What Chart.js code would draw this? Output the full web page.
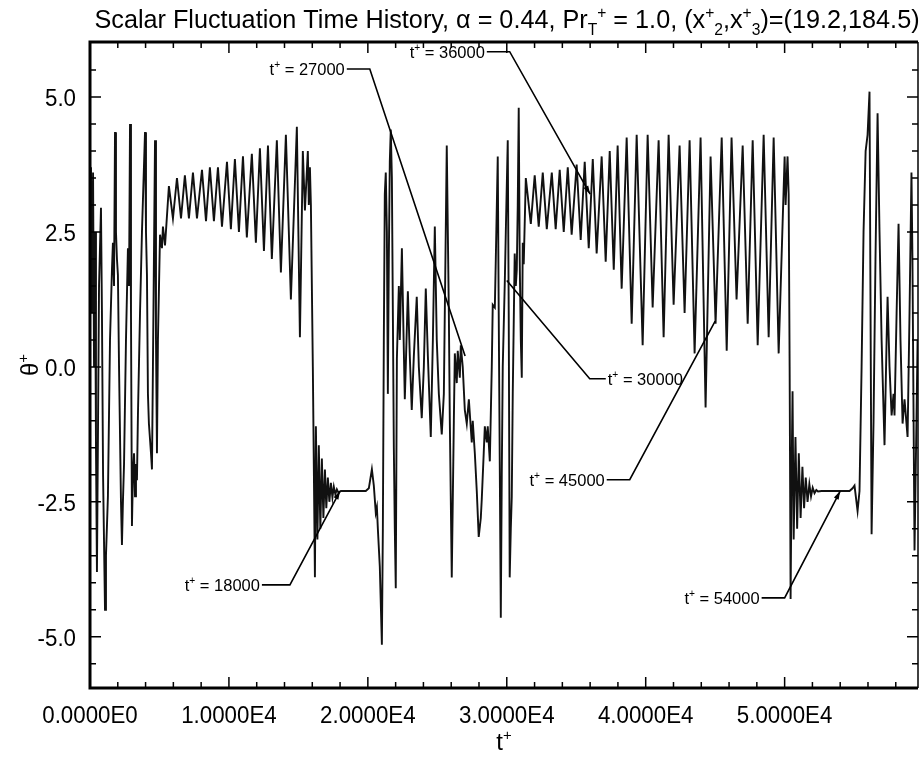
<!DOCTYPE html>
<html>
<head>
<meta charset="utf-8">
<script src="https://cdn.jsdelivr.net/npm/chart.js@4.4.1/dist/chart.umd.min.js"></script>
<style>
  html, body { margin: 0; padding: 0; background: #fff; }
  #wrap { width: 920px; height: 759px; }
</style>
</head>
<body>
<div id="wrap"><canvas id="chart" width="920" height="759"></canvas></div>
<script>
// [t+, theta+], segment by segment
const startBurst = [
  [0,2.0],[70,3.7],[140,1.0],[220,3.6],[290,0.0],[360,2.5],[430,-1.5],[500,-3.8],[580,-1.0],[650,1.5],
  [790,2.95],[860,1.0],[940,-2.0],[1080,-4.5],[1150,-3.5],[1290,-2.4],[1440,0.5],[1580,1.8],[1650,2.3],[1730,1.5],
  [1800,4.35],[1870,2.5],[1940,2.0],[2010,1.7],[2090,0.0],[2230,-2.5],[2300,-3.3],[2370,-2.5],[2450,-1.8],[2590,0.5],
  [2730,2.2],[2810,1.5],[2880,4.5],[2950,1.0],[3020,-2.95],[3090,-2.0],[3170,-1.6],[3240,-2.4],[3310,-1.8],[3380,-2.1],
  [3450,-0.9],[3600,1.0],[3740,2.5],[3960,4.35],[4030,2.5],[4100,1.7],[4170,-0.5],[4240,-1.05],[4390,-1.6],[4460,-1.9],
  [4530,0.0],[4680,4.2],[4750,0.5],[4820,-1.6],[4890,0.5],[5040,2.45],[5180,2.2],[5250,2.6],[5400,2.25]
];
const firstCycle = [
  [5680,3.35],[5970,2.75],[6260,3.5],[6550,2.75],[6830,3.55],[7120,2.75],[7410,3.6],[7700,2.75],
  [8060,3.65],[8350,2.7],[8630,3.7],[8920,2.7],[9210,3.7],[9500,2.6],[9860,3.8],[10140,2.55],
  [10430,3.85],[10720,2.5],[11010,3.9],[11290,2.4],[11650,3.95],[11940,2.3],[12230,4.05],[12520,2.15],
  [12810,4.1],[13090,2.0],[13450,4.2],[13740,1.75],[14100,4.3],[14460,1.25],[14890,4.45],[15110,0.55],
  [15320,4.0],[15470,2.9],[15680,4.0],[15750,3.0],[15830,3.7],[15900,3.0],[16040,0.0],[16190,-3.9]
];
const firstDecay = [
  [16260,-1.1],[16370,-3.2],[16470,-1.45],[16580,-3.0],[16690,-1.7],[16800,-2.8],[16910,-1.9],[17010,-2.62],
  [17120,-2.05],[17230,-2.5],[17340,-2.15],[17450,-2.42],[17550,-2.22],[17660,-2.36],[17770,-2.27],[17880,-2.33],
  [18060,-2.3],[19850,-2.3],[20070,-2.25],[20290,-1.9],[20430,-2.2],[20570,-2.7],[20650,-2.6],[20720,-3.0],
  [20860,-3.7],[21010,-5.15]
];
const midBurst = [
  [21080,-3.0],[21150,0.5],[21220,3.2],[21290,3.6],[21370,2.5],[21440,-0.5],[21510,2.0],[21580,3.8],[21650,4.4],
  [21730,3.5],[21800,1.0],[21870,-1.5],[21940,-3.0],[22010,-4.1],[22090,0.15],[22230,1.5],[22300,0.5],[22450,2.2],
  [22590,0.3],[22660,-0.6],[22730,0.0],[22880,1.4],[23020,0.2],[23160,-0.8],[23310,0.2],[23520,1.3],[23670,0.0],
  [23880,-0.95],[24030,0.0],[24170,1.45],[24320,0.2],[24530,-1.3],[24680,0.5],[24820,2.6],[24960,0.5],[25110,-0.5],
  [25320,-1.25],[25470,-0.5],[25680,4.1],[25830,1.0],[25900,-1.0],[26040,-3.9],[26190,-1.0],[26260,0.25],[26400,-0.3],
  [26470,0.3],[26620,-0.2],[26690,0.4],[26830,0.0],[26980,-0.8],[27120,-1.05],[27270,-0.6],[27480,-1.4],[27550,-1.0],
  [27700,-1.6],[27840,-2.3],[27980,-3.15],[28130,-2.8],[28200,-2.45],[28340,-1.6],[28420,-1.1],[28560,-1.4],[28630,-1.1],
  [28780,-1.75],[28920,0.0],[28990,1.15],[29140,1.1],[29210,2.0],[29350,3.9],[29420,1.0],[29500,-2.0],[29570,-4.65],
  [29640,-2.0],[29710,0.0],[29860,1.6],[29930,2.5],[30070,4.2],[30140,1.0],[30210,-3.9],[30290,-3.0],[30360,-2.4],
  [30430,-0.5],[30570,2.1],[30650,1.5],[30720,1.8],[30790,3.0],[30860,4.8],[30930,2.0],[31010,0.5],[31080,-0.2],
  [31150,2.3],[31220,1.9],[31370,3.5]
];
const secondCycle = [
  [31730,2.65],[32010,3.55],[32300,2.6],[32590,3.6],[32880,2.55],[33240,3.6],[33520,2.55],[33810,3.65],
  [34100,2.5],[34390,3.7],[34670,2.45],[35030,3.75],[35320,2.35],[35610,3.8],[35900,2.2],[36190,3.85],
  [36470,2.1],[36830,3.9],[37120,1.95],[37410,4.0],[37700,1.8],[37980,4.1],[38270,1.45],[38630,4.25],
  [38990,0.8],[39350,4.3],[39780,0.4],[40140,4.3],[40500,1.1],[40930,4.2],[41290,0.55],[41650,4.3],
  [42010,1.15],[42440,4.1],[42800,1.0],[43160,4.2],[43520,0.25],[43950,4.25],[44310,-0.75],[44670,3.9],
  [45030,0.8],[45470,4.25],[45830,0.3],[46180,4.25],[46540,1.25],[46980,4.1],[47340,0.8],[47700,4.2],
  [48060,0.4],[48490,4.3],[48850,0.55],[49210,4.25],[49570,0.25],[50000,3.9],[50070,3.0],[50210,3.9],
  [50290,3.2],[50360,0.0],[50430,-4.3]
];
const secondDecay = [
  [50500,-2.0],[50570,-0.45],[50650,-3.2],[50780,-1.3],[50900,-3.0],[51020,-1.6],[51150,-2.8],[51280,-1.85],
  [51400,-2.62],[51520,-2.05],[51650,-2.5],[51780,-2.17],[51900,-2.4],[52020,-2.24],[52150,-2.34],[52280,-2.28],
  [52400,-2.31],[52660,-2.3],[54670,-2.3],[54890,-2.25],[55030,-2.2],[55250,-2.67],[55390,-2.3]
];
const endBurst = [
  [55540,0.0],[55680,2.5],[55830,4.0],[55970,4.3],[56110,5.1],[56260,-3.1],[56400,-1.0],[56540,2.0],[56690,4.7],
  [56830,2.5],[56980,0.5],[57190,-1.45],[57340,0.5],[57410,1.3],[57550,0.0],[57700,-0.9],[57840,-0.5],[57910,-0.9],
  [58060,1.0],[58200,2.65],[58340,0.5],[58490,-1.05],[58630,-0.6],[58850,-1.3],[58990,1.0],[59130,3.6],[59200,2.0],
  [59350,-3.4],[59490,-1.0],[59570,0.5]
];

const xTickValues = [0, 10000, 20000, 30000, 40000, 50000];
const xTickLabels = ["0.0000E0", "1.0000E4", "2.0000E4", "3.0000E4", "4.0000E4", "5.0000E4"];
const yTickValues = [-5, -2.5, 0, 2.5, 5];
const yTickLabels = ["-5.0", "-2.5", "0.0", "2.5", "5.0"];

const markerTimes = [18000, 27000, 36000, 30000, 45000, 54000];
const markerTheta = [-2.3, 0.2, 3.2, 1.6, 0.85, -2.3];
const markerText = ["18000", "27000", "36000", "30000", "45000", "54000"];

const series = [].concat(startBurst, firstCycle, firstDecay, midBurst, secondCycle, secondDecay, endBurst);

const FONT = "'Liberation Sans', Arial, Helvetica, sans-serif";

// callout layout (text anchor in data units, elbow time, arrowhead)
const callouts = [
  { at: [12230, -4.04], align: "right", elbow: 14390, arrow: true },
  { at: [18340, 5.52], align: "right", elbow: 20140, arrow: false },
  { at: [28420, 5.84], align: "right", elbow: 30210, arrow: true },
  { at: [37270, -0.22], align: "left", elbow: 35970, arrow: false },
  { at: [37050, -2.09], align: "right", elbow: 38850, arrow: false },
  { at: [48200, -4.28], align: "right", elbow: 50000, arrow: true }
];

// draws text pieces with sub/superscripts, returns width
function drawRich(ctx, parts, x, y, size, align, stretch) {
  stretch = stretch || 1;
  let total = 0;
  const widths = parts.map(p => {
    const s = p[1] === "n" ? size : size * 0.62;
    ctx.font = s + "px " + FONT;
    const w = ctx.measureText(p[0]).width;
    total += w;
    return w;
  });
  const w = total * stretch;
  let x0 = x;
  if (align === "center") x0 = x - w / 2;
  else if (align === "right") x0 = x - w;
  ctx.save();
  ctx.translate(x0, y);
  ctx.scale(stretch, 1);
  ctx.textBaseline = "alphabetic";
  ctx.textAlign = "left";
  let cx = 0;
  parts.forEach((p, i) => {
    const s = p[1] === "n" ? size : size * 0.62;
    ctx.font = s + "px " + FONT;
    let dy = 0;
    if (p[1] === "sub") dy = size * 0.28;
    if (p[1] === "sup") dy = -size * 0.4;
    ctx.fillText(p[0], cx, dy);
    cx += widths[i];
  });
  ctx.restore();
  return w;
}

const decorPlugin = {
  id: "decor",
  afterDatasetsDraw(chart) {
    const ctx = chart.ctx;
    const a = chart.chartArea;
    const xs = chart.scales.x, ys = chart.scales.y;
    ctx.save();
    ctx.fillStyle = "#000";
    ctx.strokeStyle = "#000";

    // inward ticks on all four sides
    ctx.lineWidth = 1.5;
    ctx.beginPath();
    for (let t = 0; t <= xs.max; t += 2000) {
      const px = xs.getPixelForValue(t);
      const len = t % 10000 === 0 ? 11 : 6;
      ctx.moveTo(px, a.bottom); ctx.lineTo(px, a.bottom - len);
      ctx.moveTo(px, a.top); ctx.lineTo(px, a.top + len);
    }
    for (let v = -5.5; v <= 5.5; v += 0.5) {
      const py = ys.getPixelForValue(v);
      const len = Math.abs(v % 2.5) < 1e-9 ? 11 : 6;
      ctx.moveTo(a.left, py); ctx.lineTo(a.left + len, py);
      ctx.moveTo(a.right, py); ctx.lineTo(a.right - len, py);
    }
    ctx.stroke();

    // frame
    ctx.lineWidth = 3;
    ctx.beginPath();
    ctx.moveTo(a.right, a.top); ctx.lineTo(a.left, a.top);
    ctx.lineTo(a.left, a.bottom); ctx.lineTo(a.right, a.bottom);
    ctx.stroke();
    ctx.lineWidth = 1.5;
    ctx.beginPath();
    ctx.moveTo(a.right, a.top); ctx.lineTo(a.right, a.bottom);
    ctx.stroke();

    // tick labels
    xTickValues.forEach((v, i) => {
      drawRich(ctx, [[xTickLabels[i], "n"]], xs.getPixelForValue(v), 723, 24, "center", 0.93);
    });
    yTickValues.forEach((v, i) => {
      drawRich(ctx, [[yTickLabels[i], "n"]], 76, ys.getPixelForValue(v) + 9, 24, "right", 0.93);
    });

    // callouts
    ctx.lineWidth = 1.6;
    callouts.forEach((c, i) => {
      const tx = xs.getPixelForValue(c.at[0]);
      const ty = ys.getPixelForValue(c.at[1]);
      const parts = [["t", "n"], ["+", "sup"], [" = " + markerText[i], "n"]];
      drawRich(ctx, parts, tx, ty + 6, 17, c.align, 0.97);
      const ex = xs.getPixelForValue(c.elbow);
      const gx = xs.getPixelForValue(markerTimes[i]);
      const gy = ys.getPixelForValue(markerTheta[i]);
      const sx = c.align === "right" ? tx + 2 : tx - 2;
      ctx.beginPath();
      ctx.moveTo(sx, ty); ctx.lineTo(ex, ty); ctx.lineTo(gx, gy);
      ctx.stroke();
      if (c.arrow) {
        const ang = Math.atan2(gy - ty, gx - ex);
        ctx.beginPath();
        ctx.moveTo(gx, gy);
        ctx.lineTo(gx - 9 * Math.cos(ang - 0.3), gy - 9 * Math.sin(ang - 0.3));
        ctx.lineTo(gx - 9 * Math.cos(ang + 0.3), gy - 9 * Math.sin(ang + 0.3));
        ctx.closePath();
        ctx.fill();
      }
    });

    // title
    drawRich(ctx, [
      ["Scalar Fluctuation Time History, \u03b1 = 0.44, Pr", "n"], ["T", "sub"], ["+", "sup"],
      [" = 1.0, (x", "n"], ["+", "sup"], ["2", "sub"], [",x", "n"], ["+", "sup"], ["3", "sub"],
      [")=(19.2,184.5)", "n"]
    ], 507, 28, 26, "center", 0.97);

    // axis titles
    drawRich(ctx, [["t", "n"], ["+", "sup"]], (a.left + a.right) / 2, 750, 24, "center", 1);
    ctx.save();
    ctx.translate(38, (a.top + a.bottom) / 2);
    ctx.rotate(-Math.PI / 2);
    drawRich(ctx, [["\u03b8", "n"], ["+", "sup"]], 0, 0, 24, "center", 1);
    ctx.restore();

    ctx.restore();
  }
};

new Chart(document.getElementById("chart").getContext("2d"), {
  type: "line",
  data: {
    datasets: [{
      data: series.map(p => ({ x: p[0], y: p[1] })),
      borderColor: "#111",
      borderWidth: 1.9,
      pointRadius: 0,
      tension: 0,
      fill: false
    }]
  },
  options: {
    responsive: false,
    animation: false,
    devicePixelRatio: 1,
    layout: { padding: { top: 42, right: 2, left: 0, bottom: 0 } },
    plugins: { legend: { display: false }, tooltip: { enabled: false } },
    scales: {
      x: {
        type: "linear",
        min: 0,
        max: 59600,
        grid: { display: false, drawTicks: false },
        border: { display: false },
        afterBuildTicks: s => { s.ticks = xTickValues.map(v => ({ value: v })); },
        afterFit: s => { s.height = 71; },
        ticks: { display: false }
      },
      y: {
        min: -5.95,
        max: 6.02,
        grid: { display: false, drawTicks: false },
        border: { display: false },
        afterBuildTicks: s => { s.ticks = yTickValues.map(v => ({ value: v })); },
        afterFit: s => { s.width = 90; },
        ticks: { display: false }
      }
    }
  },
  plugins: [decorPlugin]
});
</script>
</body>
</html>
